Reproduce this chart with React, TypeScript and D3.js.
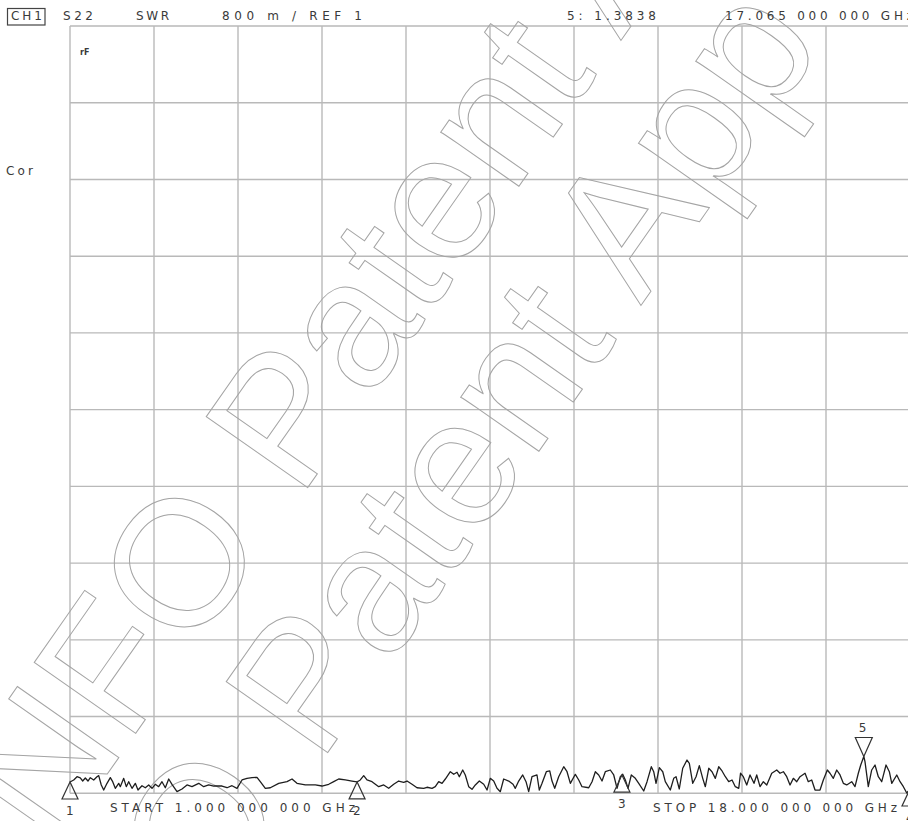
import React from "react";
import * as d3 from "d3";

// ---- data ----
const freqStart = 1; // GHz
const freqStop = 18; // GHz
const refValue = 1;
const scalePerDiv = 0.8;
const divisions = 10;

const traceFreq = [
  1.0, 1.075, 1.142, 1.208, 1.257, 1.31, 1.364, 1.411, 1.48, 1.546, 1.581, 1.633, 1.682, 1.749, 1.816, 1.864, 1.917, 1.986, 2.018, 2.087,
  2.139, 2.188, 2.255, 2.322, 2.376, 2.457, 2.524, 2.593, 2.66, 2.726, 2.795, 2.862, 2.929, 2.998, 3.064, 3.166, 3.267, 3.368, 3.469, 3.605,
  3.706, 3.807, 3.908, 4.076, 4.178, 4.279, 4.38, 4.481, 4.582, 4.683, 4.784, 4.851, 4.953, 5.054, 5.224, 5.392, 5.493, 5.594, 5.762, 5.965,
  6.1, 6.236, 6.337, 6.438, 6.572, 6.707, 6.809, 6.875, 6.944, 7.011, 7.112, 7.248, 7.349, 7.45, 7.551, 7.652, 7.754, 7.821, 7.922, 8.023,
  8.158, 8.225, 8.327, 8.393, 8.462, 8.529, 8.596, 8.697, 8.766, 8.833, 8.879, 8.948, 9.0, 9.069, 9.136, 9.203, 9.284, 9.373, 9.44, 9.506,
  9.575, 9.642, 9.709, 9.777, 9.879, 9.966, 10.012, 10.081, 10.162, 10.229, 10.283, 10.35, 10.451, 10.498, 10.553, 10.64, 10.709, 10.755, 10.81, 10.89,
  10.992, 11.059, 11.126, 11.227, 11.296, 11.362, 11.498, 11.565, 11.632, 11.7, 11.767, 11.834, 11.935, 12.004, 12.071, 12.137, 12.186, 12.239, 12.293, 12.36,
  12.441, 12.51, 12.611, 12.678, 12.765, 12.813, 12.86, 12.927, 12.996, 13.048, 13.149, 13.218, 13.265, 13.331, 13.4, 13.487, 13.534, 13.603, 13.67, 13.736,
  13.805, 13.858, 13.927, 13.993, 14.06, 14.129, 14.196, 14.263, 14.331, 14.398, 14.465, 14.534, 14.57, 14.627, 14.696, 14.762, 14.843, 14.898, 14.965, 15.032,
  15.101, 15.202, 15.303, 15.37, 15.437, 15.505, 15.572, 15.639, 15.708, 15.774, 15.876, 15.942, 16.011, 16.078, 16.179, 16.246, 16.327, 16.381, 16.448, 16.517,
  16.584, 16.651, 16.719, 16.82, 16.887, 16.954, 17.003, 17.065, 17.089, 17.156, 17.225, 17.292, 17.359, 17.428, 17.515, 17.582, 17.631, 17.732, 17.799, 17.866,
  17.934, 18.0,
];

const traceSwr = [
  1.118, 1.139, 1.173, 1.16, 1.128, 1.16, 1.128, 1.163, 1.139, 1.173, 1.184, 1.087, 1.034, 1.104, 1.163, 1.121, 1.052, 1.104, 1.069, 1.156,
  1.069, 1.121, 1.052, 1.104, 1.034, 1.079, 1.058, 1.087, 1.052, 1.094, 1.069, 1.121, 1.058, 1.149, 1.094, 1.017, 1.045, 1.087, 1.069, 1.104,
  1.069, 1.087, 1.076, 1.076, 1.058, 1.079, 1.052, 1.139, 1.156, 1.163, 1.167, 1.121, 1.052, 1.058, 1.104, 1.121, 1.149, 1.104, 1.087, 1.087,
  1.076, 1.094, 1.121, 1.149, 1.139, 1.128, 1.118, 1.139, 1.184, 1.139, 1.121, 1.069, 1.087, 1.052, 1.094, 1.128, 1.115, 1.128, 1.094, 1.058,
  1.052, 1.063, 1.052, 1.069, 1.121, 1.104, 1.149, 1.225, 1.198, 1.219, 1.173, 1.243, 1.191, 1.069, 1.042, 1.087, 1.128, 1.094, 1.034, 1.156,
  1.128, 1.052, 1.017, 1.149, 1.128, 1.094, 1.052, 1.128, 1.191, 1.121, 1.017, 1.173, 1.191, 1.034, 1.104, 1.225, 1.233, 1.128, 1.052, 1.173,
  1.277, 1.225, 1.104, 1.198, 1.139, 1.069, 1.058, 1.121, 1.225, 1.191, 1.128, 1.225, 1.243, 1.191, 1.052, 1.173, 1.198, 1.139, 1.052, 1.191,
  1.156, 1.104, 1.024, 1.121, 1.277, 1.225, 1.104, 1.267, 1.225, 1.121, 1.034, 1.156, 1.173, 1.045, 1.261, 1.347, 1.313, 1.104, 1.173, 1.288,
  1.156, 1.069, 1.261, 1.225, 1.156, 1.277, 1.233, 1.173, 1.121, 1.139, 1.069, 1.052, 1.209, 1.173, 1.087, 1.191, 1.104, 1.191, 1.069, 1.121,
  1.087, 1.209, 1.243, 1.209, 1.225, 1.173, 1.087, 1.156, 1.121, 1.173, 1.209, 1.121, 1.139, 1.034, 1.034, 1.139, 1.243, 1.209, 1.156, 1.243,
  1.191, 1.104, 1.087, 1.121, 1.069, 1.209, 1.295, 1.3838, 1.33, 1.069, 1.243, 1.295, 1.173, 1.121, 1.295, 1.225, 1.104, 1.191, 1.121, 1.069,
  1.003, 1.045,
];

const markerIds = ["1", "2", "3", "4", "5"];
const markerFreqs = [1.0, 6.81, 12.17, 18.0, 17.065];
const activeMarker = "5";

const headerLabels = ["S22", "SWR", "800 m / REF 1", "5: 1.3838", "17.065 000 000 GHz"];
const startLabel = "START 1.000 000 000 GHz";
const stopLabel = "STOP 18.000 000 000 GHz";
const channelLabel = "CH1";
const corLabel = "Cor";
const watermark = "INFO Patent App";

// ---- layout ----
const W = 908;
const H = 821;
const L = 70;
const R = 910;
const T = 26;
const B = 793.3;

export default function App() {
  const x = d3.scaleLinear().domain([freqStart, freqStop]).range([L, R]);
  const y = d3
    .scaleLinear()
    .domain([refValue, refValue + scalePerDiv * divisions])
    .range([B, T]);

  const data = traceFreq.map((f, i) => [f, traceSwr[i]] as [number, number]);
  const line = d3
    .line<[number, number]>()
    .x((d) => x(d[0]))
    .y((d) => y(d[1]));

  const interp = (f: number) => {
    const i = d3.bisector((d: [number, number]) => d[0]).left(data, f);
    if (i <= 0) return data[0][1];
    if (i >= data.length) return data[data.length - 1][1];
    const a = data[i - 1];
    const b = data[i];
    const t = (f - a[0]) / (b[0] - a[0]);
    return a[1] + t * (b[1] - a[1]);
  };

  const xGrid = d3.range(divisions + 1).map((i) => freqStart + ((freqStop - freqStart) / divisions) * i);
  const yGrid = d3.range(divisions + 1).map((i) => refValue + scalePerDiv * i);

  const txt: React.CSSProperties = {
    fontFamily: "DejaVu Sans, Liberation Sans, sans-serif",
    fontSize: 12,
    fill: "#3a3a3a",
  };

  const headerX = [63, 136, 222, 567, 725];
  const headerW = [30, 33, 140, 89, 188];

  const wmStyle: React.CSSProperties = {
    fontFamily: "Liberation Sans, Arial, sans-serif",
    fontSize: 180,
    fill: "none",
    stroke: "#a4a4a4",
    strokeWidth: 1,
  };

  return (
    <svg
      width={W}
      height={H}
      viewBox={`0 0 ${W} ${H}`}
      style={{ position: "absolute", left: 0, top: 0, background: "#fff" }}
    >
      <rect x={0} y={0} width={W} height={H} fill="#fff" />
      {/* grid */}
      <g stroke="#b9b9b9" strokeWidth={1.4}>
        {xGrid.map((f, i) => (
          <line key={"gx" + i} x1={x(f)} x2={x(f)} y1={T} y2={B} />
        ))}
        {yGrid.map((v, i) => (
          <line key={"gy" + i} x1={L} x2={R} y1={y(v)} y2={y(v)} />
        ))}
      </g>

      {/* watermark */}
      <g style={wmStyle}>
        <text transform="translate(24,893) rotate(-55)">{watermark}</text>
        <text transform="translate(44,1158) rotate(-55)">{watermark}</text>
      </g>

      {/* trace */}
      <path d={line(data) || ""} fill="none" stroke="#1e1e1e" strokeWidth={1.3} strokeLinejoin="round" />

      {/* markers */}
      {markerIds.map((id, i) => {
        const f = markerFreqs[i];
        const px = x(f);
        const py = y(interp(f));
        if (id === activeMarker) {
          return (
            <g key={"m" + id}>
              <path
                d={`M${px},${py} L${px - 8.5},${py - 19} L${px + 8.5},${py - 19} Z`}
                fill="none"
                stroke="#333"
                strokeWidth={1.2}
              />
              <text x={px - 5} y={py - 24} style={txt}>
                {id}
              </text>
            </g>
          );
        }
        return (
          <g key={"m" + id}>
            <path
              d={`M${px},${py} L${px - 8},${py + 17} L${px + 8},${py + 17} Z`}
              fill="none"
              stroke="#333"
              strokeWidth={1.2}
            />
            <text x={px - 4} y={py + 33} style={txt}>
              {id}
            </text>
          </g>
        );
      })}

      {/* header */}
      <rect x={7.5} y={8.5} width={37.5} height={16.5} fill="none" stroke="#444" strokeWidth={1.2} />
      <text x={11} y={20} style={txt} textLength={31} lengthAdjust="spacing">
        {channelLabel}
      </text>
      {headerLabels.map((s, i) => (
        <text key={"h" + i} x={headerX[i]} y={19.5} style={txt} textLength={headerW[i]} lengthAdjust="spacing">
          {s}
        </text>
      ))}
      <text x={6} y={175} style={txt} textLength={27} lengthAdjust="spacing">
        {corLabel}
      </text>
      <text x={80} y={55} style={{ ...txt, fontSize: 8, fontWeight: "bold" }}>
        rF
      </text>

      {/* footer */}
      <text x={110} y={812} style={txt} textLength={245} lengthAdjust="spacing">
        {startLabel}
      </text>
      <text x={653} y={812} style={txt} textLength={244} lengthAdjust="spacing">
        {stopLabel}
      </text>
    </svg>
  );
}
